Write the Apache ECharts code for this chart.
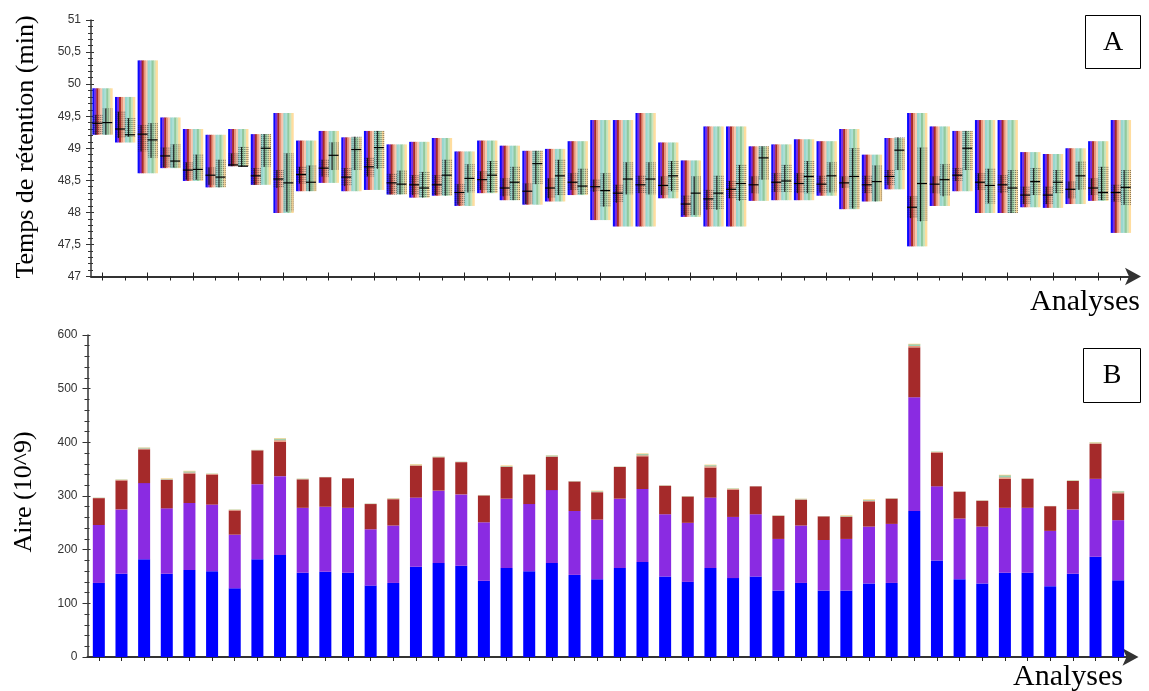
<!DOCTYPE html>
<html>
<head>
<meta charset="utf-8">
<script src="https://cdn.jsdelivr.net/npm/echarts@6/dist/echarts.min.js"></script>
<style>
html,body{margin:0;padding:0;background:#fff;}
#chart{width:1149px;height:691px;}
</style>
</head>
<body>
<div id="chart"></div>
<script>
// ---------- DATA ----------
const analyses = Array.from({length: 46}, (_, i) => 'Analyse ' + (i + 1));

// Panel A : retention time (min)
const rtTop = [49.935,49.80,50.37,49.48,49.30,49.21,49.30,49.22,49.55,49.12,49.27,49.17,49.27,49.06,49.10,49.16,48.95,49.12,49.04,48.96,48.99,49.11,49.44,49.44,49.55,49.09,48.81,49.34,49.34,49.03,49.06,49.14,49.11,49.30,48.90,49.16,49.55,49.34,49.27,49.44,49.44,48.94,48.91,49.00,49.11,49.44];
const rtBottom = [49.21,49.09,48.61,48.69,48.49,48.39,48.72,48.43,47.99,48.33,48.46,48.33,48.35,48.28,48.23,48.26,48.10,48.30,48.19,48.12,48.17,48.27,47.88,47.78,47.78,48.22,47.93,47.78,47.78,48.18,48.19,48.19,48.26,48.05,48.17,48.36,47.47,48.10,48.33,47.99,47.99,48.08,48.07,48.13,48.18,47.68];
const boxLow1 = [49.21,49.16,48.95,48.70,48.51,48.43,48.72,48.43,48.38,48.45,48.56,48.41,48.56,48.28,48.27,48.27,48.12,48.35,48.25,48.13,48.22,48.35,48.32,48.15,48.30,48.27,47.96,48.04,48.22,48.30,48.32,48.30,48.31,48.38,48.30,48.43,47.91,48.30,48.49,48.35,48.30,48.13,48.13,48.22,48.27,48.17];
const boxHigh1 = [49.52,49.57,49.36,49.01,48.78,48.70,48.92,48.69,48.66,48.71,48.82,48.69,48.85,48.60,48.58,48.58,48.44,48.64,48.53,48.45,48.53,48.61,48.51,48.43,48.57,48.56,48.26,48.35,48.49,48.56,48.61,48.61,48.57,48.56,48.57,48.66,48.25,48.56,48.69,48.61,48.58,48.40,48.40,48.48,48.53,48.43];
const median1 = [49.39,49.30,49.22,48.88,48.66,48.58,48.74,48.57,48.52,48.59,48.69,48.55,48.71,48.46,48.43,48.43,48.31,48.51,48.38,48.33,48.38,48.47,48.40,48.30,48.43,48.42,48.13,48.21,48.36,48.43,48.47,48.45,48.44,48.46,48.43,48.56,48.08,48.44,48.58,48.47,48.43,48.27,48.27,48.36,48.38,48.31];
const boxLow2 = [49.21,49.18,48.85,48.70,48.51,48.39,48.71,48.71,48.01,48.33,48.66,48.66,48.68,48.28,48.23,48.26,48.31,48.31,48.19,48.44,48.27,48.28,48.09,48.28,48.28,48.33,47.96,48.04,48.18,48.51,48.32,48.30,48.31,48.06,48.17,48.66,47.86,48.25,48.66,48.14,47.99,48.27,48.30,48.35,48.19,48.12];
const boxHigh2 = [49.62,49.47,49.39,49.06,48.90,48.82,49.02,49.22,48.92,48.73,49.09,49.18,49.27,48.65,48.63,48.82,48.75,48.80,48.71,48.96,48.82,48.68,48.61,48.78,48.78,48.80,48.56,48.57,48.74,49.03,48.74,48.80,48.78,49.00,48.73,49.17,49.01,48.75,49.27,48.68,48.66,48.69,48.66,48.79,48.71,48.66];
const median2 = [49.40,49.21,49.13,48.80,48.67,48.55,48.72,49.00,48.46,48.47,48.89,48.98,49.01,48.44,48.38,48.58,48.53,48.58,48.47,48.76,48.57,48.41,48.34,48.52,48.52,48.57,48.30,48.30,48.45,48.85,48.49,48.56,48.57,48.56,48.48,48.97,48.45,48.51,49.00,48.42,48.38,48.48,48.47,48.57,48.31,48.39];

// Panel B : areas (10^9), stacked segments
const areaBlue = [138,155,182,155,162,160,128,182,190,157,159,157,133,138,168,175,170,142,166,160,175,153,145,166,177,150,140,166,147,150,124,138,124,124,137,138,272,180,145,137,157,157,132,155,187,143];
const areaPurple = [108,120,142,122,125,124,100,140,147,121,121,121,105,107,129,135,133,109,129,125,136,119,111,129,136,116,110,131,114,116,96,107,94,96,106,110,212,138,113,106,121,121,103,120,145,112];
const areaBrown = [50,54,63,53,55,56,45,63,64,53,55,55,47,49,59,62,60,50,59,55,62,55,51,59,61,53,49,56,51,52,43,48,44,41,47,47,93,63,50,48,54,54,46,53,65,50];
const areaSalmon = [0.5,1,1.5,1,2,1,1,0.5,3,0.5,0.3,0.3,0.5,1,1.5,0.5,0.5,0.5,1,0.3,1,0.5,1,0.5,2,0.5,0.5,2.5,1,0.2,0.5,1,0.3,1,1.5,0.5,3,1,0.3,0.5,3,0.5,0.3,0.5,1.5,2];
const areaTeal = [0.2,0.3,0.5,0.5,1,0.3,0.3,0.2,1,0.4,0.1,0.1,0.2,0.3,0.5,0.4,0.2,0.2,0.5,0.1,1,0.2,0.5,0.2,1,0.2,0.2,1,0.5,0.1,0.2,0.4,0.1,0.5,0.8,0.2,1.2,0.4,0.1,0.2,1.6,0.2,0.1,0.4,0.7,1.3];
const areaGreen = [0.2,0.3,1,0.5,1,0.3,0.3,0.2,2,0.3,0.1,0.1,0.2,0.3,0.5,0.3,0.2,0.2,0.5,0.1,0.5,0.2,0.5,0.2,1.5,0.2,0.2,1,0.5,0,0.2,0.3,0.1,0.5,0.7,0.2,1.5,0.3,0.1,0.2,2,0.2,0.1,0.3,0.5,0.7];
const areaOrange = [0.1,0.4,0.5,1,1,0.4,0.4,0.1,1,0.3,0,0,0.1,0.4,1,0.3,0.1,0.1,1,0,0.5,0.1,1,0.1,1,0.1,0.1,1,0.5,0,0.1,0.3,0,1,1,0.1,1,0.3,0,0.1,1,0.1,0,0.3,0.8,0.5];

const rtTicks = {min: 47, max: 51, interval: 0.5};
const areaTicks = {min: 0, max: 600, interval: 100};

// ---------- STYLE ----------
const stripeColors = ['#0a0aff','#7a2de0','#a52a2a','#e9967a','#f6c8b2','#86d0c8','#9fd9cd','#7fbf8d','#bfe0b4','#ffd78e'];
const serif = '"Liberation Serif","Times New Roman",serif';
const sans = '"Liberation Sans",Arial,sans-serif';

const chart = echarts.init(document.getElementById('chart'), null, {renderer: 'canvas'});

const rtData = analyses.map((_, i) => [i, rtTop[i], rtBottom[i], boxLow1[i], boxHigh1[i], median1[i], boxLow2[i], boxHigh2[i], median2[i]]);

function renderRT(params, api) {
  const i = api.value(0);
  const pTop = api.coord([i, api.value(1)]);
  const pBot = api.coord([i, api.value(2)]);
  const band = api.size([1, 0])[0];
  const w = band * 0.88;
  const x0 = pTop[0] - w / 2;
  const sw = w / stripeColors.length;
  const children = [];
  stripeColors.forEach((c, k) => {
    children.push({type: 'rect', shape: {x: x0 + k * sw, y: pTop[1], width: sw + 0.4, height: pBot[1] - pTop[1]},
      style: {fill: c, opacity: k < 5 ? 1 : 0.85}});
  });
  [[3, 4, 5], [6, 7, 8]].forEach((idx, h) => {
    const lo = api.coord([i, api.value(idx[0])])[1];
    const hi = api.coord([i, api.value(idx[1])])[1];
    const md = api.coord([i, api.value(idx[2])])[1];
    const hw = w / 2;
    const bx = x0 + h * hw;
    for (let k = 0.8; k < hw; k += 1.8) {
      children.push({type: 'line', shape: {x1: bx + k, y1: hi, x2: bx + k, y2: lo},
        style: {stroke: 'rgba(25,25,25,0.55)', lineWidth: 1, lineDash: [1, 1]}});
    }
    children.push({type: 'line', shape: {x1: bx + hw * 0.35, y1: hi, x2: bx + hw * 0.35, y2: lo},
      style: {stroke: '#111', lineWidth: 1}});
    children.push({type: 'line', shape: {x1: bx, y1: md, x2: bx + hw, y2: md},
      style: {stroke: '#000', lineWidth: 1.2}});
  });
  return {type: 'group', children};
}

function xAxes(grid) {
  return [
    {type: 'category', gridIndex: grid, data: analyses, boundaryGap: true,
      axisLine: {show: true, lineStyle: {color: '#333', width: 2}, symbol: ['none', 'arrow'], symbolSize: [13, 16], symbolOffset: [0, 9]},
      axisTick: {show: true, alignWithLabel: true, interval: 0, length: 4, lineStyle: {color: '#222', width: 1}},
      axisLabel: {show: false}, splitLine: {show: false}},
    {type: 'category', gridIndex: grid, data: analyses, boundaryGap: true, position: 'bottom',
      axisLine: {show: false},
      axisTick: {show: true, inside: true, alignWithLabel: true, interval: (idx) => idx % 2 === 0, length: 4, lineStyle: {color: '#222', width: 1}},
      axisLabel: {show: false}, splitLine: {show: false}}
  ];
}

function yAxes(grid, t, fmt) {
  return [
    {type: 'value', gridIndex: grid, min: t.min, max: t.max, interval: t.interval,
      axisLine: {show: true, lineStyle: {color: '#333', width: 1.5}},
      axisTick: {show: true, length: 5, lineStyle: {color: '#333'}},
      minorTick: {show: true, splitNumber: 5, length: 3, lineStyle: {color: '#333'}},
      axisLabel: {show: true, margin: 10, color: '#333', fontSize: 12, fontFamily: sans, formatter: fmt},
      splitLine: {show: false}},
    {type: 'value', gridIndex: grid, min: t.min, max: t.max, interval: t.interval, position: 'left',
      axisLine: {show: false},
      axisTick: {show: true, inside: true, length: 3, lineStyle: {color: '#333'}},
      minorTick: {show: true, splitNumber: 5, length: 2, lineStyle: {color: '#333'}},
      axisLabel: {show: false}, splitLine: {show: false}}
  ];
}

const barW = 12;
function barSeries(name, data, color) {
  return {name, type: 'bar', stack: 'aire', xAxisIndex: 2, yAxisIndex: 2, data, barWidth: barW,
    itemStyle: {color}, emphasis: {disabled: true}, animation: false};
}

const option = {
  animation: false,
  backgroundColor: '#fff',
  grid: [
    {left: 91, top: 20, width: 1041, height: 256.5},
    {left: 87.5, top: 335, width: 1042, height: 322}
  ],
  xAxis: [...xAxes(0), ...xAxes(1)],
  yAxis: [
    ...yAxes(0, rtTicks, v => String(v).replace('.', ',')),
    ...yAxes(1, areaTicks, v => String(v))
  ],
  series: [
    {type: 'custom', xAxisIndex: 0, yAxisIndex: 0, data: rtData, renderItem: renderRT,
      encode: {x: 0, y: [1, 2]}, clip: false, animation: false},
    barSeries('C1', areaBlue, '#0000ff'),
    barSeries('C2', areaPurple, '#8a2be2'),
    barSeries('C3', areaBrown, '#a52a2a'),
    barSeries('C4', areaSalmon, '#e9967a'),
    barSeries('C5', areaTeal, '#66cdaa'),
    barSeries('C6', areaGreen, '#8fbc8f'),
    barSeries('C7', areaOrange, '#ffd27f')
  ],
  graphic: [
    {type: 'text', rotation: Math.PI / 2, x: 26, y: 147,
      style: {text: 'Temps de rétention (min)', font: '26px ' + serif, fill: '#000', textAlign: 'center', textVerticalAlign: 'middle'}},
    {type: 'text', rotation: Math.PI / 2, x: 24, y: 492,
      style: {text: 'Aire (10^9)', font: '26px ' + serif, fill: '#000', textAlign: 'center', textVerticalAlign: 'middle'}},
    {type: 'text', x: 1085, y: 302,
      style: {text: 'Analyses', font: '30px ' + serif, fill: '#000', textAlign: 'center', textVerticalAlign: 'middle'}},
    {type: 'text', x: 1068, y: 677,
      style: {text: 'Analyses', font: '30px ' + serif, fill: '#000', textAlign: 'center', textVerticalAlign: 'middle'}},
    {type: 'rect', shape: {x: 1085.5, y: 15.5, width: 55, height: 53}, style: {fill: '#fff', stroke: '#000', lineWidth: 1}},
    {type: 'text', x: 1113, y: 43, style: {text: 'A', font: '28px ' + serif, fill: '#000', textAlign: 'center', textVerticalAlign: 'middle'}},
    {type: 'rect', shape: {x: 1083.5, y: 348.5, width: 57, height: 54}, style: {fill: '#fff', stroke: '#000', lineWidth: 1}},
    {type: 'text', x: 1112, y: 376, style: {text: 'B', font: '28px ' + serif, fill: '#000', textAlign: 'center', textVerticalAlign: 'middle'}}
  ]
};
chart.setOption(option);
</script>
</body>
</html>
